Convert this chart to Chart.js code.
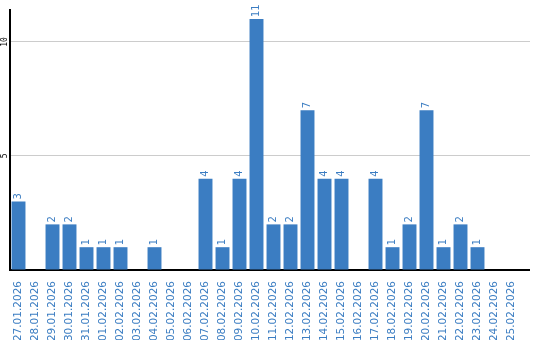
<!DOCTYPE html>
<html>
<head>
<meta charset="utf-8">
<script src="https://cdn.jsdelivr.net/npm/chart.js@4"></script>
<style>
  html, body { margin: 0; padding: 0; background: #fff; }
  #wrap { width: 540px; height: 340px; }
</style>
</head>
<body>
<div id="wrap"><canvas id="chart"></canvas></div>
<script>
const labels = [
  "27.01.2026", "28.01.2026", "29.01.2026", "30.01.2026", "31.01.2026",
  "01.02.2026", "02.02.2026", "03.02.2026", "04.02.2026", "05.02.2026",
  "06.02.2026", "07.02.2026", "08.02.2026", "09.02.2026", "10.02.2026",
  "11.02.2026", "12.02.2026", "13.02.2026", "14.02.2026", "15.02.2026",
  "16.02.2026", "17.02.2026", "18.02.2026", "19.02.2026", "20.02.2026",
  "21.02.2026", "22.02.2026", "23.02.2026", "24.02.2026", "25.02.2026"
];
const counts = [3, 0, 2, 2, 1, 1, 1, 0, 1, 0, 0, 4, 1, 4, 11, 2, 2, 7, 4, 4, 0, 4, 1, 2, 7, 1, 2, 1, 0, 0];
const yTicks = [5, 10];

const BLUE = "#3b7dc2";
const LINE_END = 530; // axis and grid lines run a bit past the last category

// value labels on top of bars, rotated
const barLabels = {
  id: "barLabels",
  afterDatasetsDraw(chart) {
    const { ctx } = chart;
    const meta = chart.getDatasetMeta(0);
    ctx.save();
    ctx.fillStyle = BLUE;
    ctx.font = "10px 'DejaVu Sans'";
    ctx.textAlign = "left";
    ctx.textBaseline = "middle";
    meta.data.forEach((bar, i) => {
      const v = counts[i];
      if (!v) return;
      ctx.save();
      ctx.translate(bar.x, bar.y - 2);
      ctx.rotate(-Math.PI / 2);
      ctx.fillText(String(v), 0, 0);
      ctx.restore();
    });
    ctx.restore();
  }
};

// rotated y tick labels + line extension to the right
const yLabels = {
  id: "yLabels",
  beforeDatasetsDraw(chart) {
    const { ctx, chartArea } = chart;
    const y = chart.scales.y;
    ctx.save();
    ctx.strokeStyle = "#cccccc";
    ctx.lineWidth = 1;
    yTicks.forEach(t => {
      const py = Math.round(y.getPixelForValue(t) - 0.5) + 0.5;
      ctx.beginPath();
      ctx.moveTo(chartArea.right, py);
      ctx.lineTo(LINE_END, py);
      ctx.stroke();
    });
    ctx.restore();
  },
  afterDraw(chart) {
    const { ctx, chartArea } = chart;
    const y = chart.scales.y;
    ctx.save();
    ctx.strokeStyle = "#000";
    ctx.lineWidth = 2;
    const py0 = Math.round(y.getPixelForValue(0) - 1) + 1;
    ctx.beginPath();
    ctx.moveTo(chartArea.right - 4, py0);
    ctx.lineTo(LINE_END, py0);
    ctx.stroke();

    ctx.fillStyle = "#000";
    ctx.font = "8px 'DejaVu Sans Mono'";
    ctx.textAlign = "center";
    ctx.textBaseline = "middle";
    yTicks.forEach(t => {
      ctx.save();
      ctx.translate(5, y.getPixelForValue(t));
      ctx.rotate(-Math.PI / 2);
      ctx.fillText(String(t), 0, 0);
      ctx.restore();
    });
    ctx.restore();
  }
};

new Chart(document.getElementById("chart"), {
  type: "bar",
  data: {
    labels: labels,
    datasets: [{
      data: counts,
      backgroundColor: BLUE,
      barPercentage: 0.82,
      categoryPercentage: 1
    }]
  },
  options: {
    responsive: true,
    maintainAspectRatio: false,
    animation: false,
    layout: { padding: { top: 10, right: 20, left: 0, bottom: 0 } },
    plugins: { legend: { display: false }, tooltip: { enabled: false } },
    scales: {
      x: {
        grid: { display: false },
        border: { color: "#000", width: 2 },
        ticks: {
          color: BLUE,
          font: { family: "'DejaVu Sans'", size: 10.5 },
          minRotation: 90,
          maxRotation: 90,
          autoSkip: false,
          padding: 3
        },
        afterFit(scale) { scale.height = 70; }
      },
      y: {
        min: 0,
        max: 11.4,
        ticks: { display: false, stepSize: 5 },
        afterBuildTicks(scale) {
          scale.ticks = [0].concat(yTicks).map(v => ({ value: v }));
        },
        grid: {
          drawTicks: false,
          color: ctx => ctx.tick && ctx.tick.value === 0 ? "rgba(0,0,0,0)" : "#cccccc",
          lineWidth: 1
        },
        border: { color: "#000", width: 2 },
        afterFit(scale) { scale.width = 10; }
      }
    }
  },
  plugins: [barLabels, yLabels]
});
</script>
</body>
</html>
